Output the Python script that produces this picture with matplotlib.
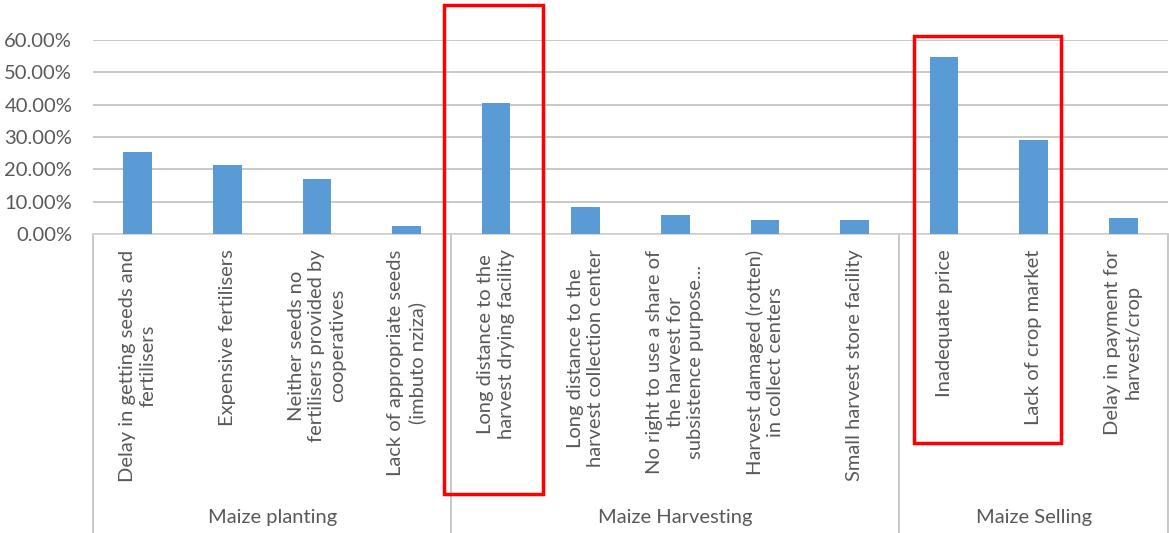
import numpy as np
import matplotlib.pyplot as plt
import matplotlib.transforms as mtransforms
from matplotlib.patches import Rectangle
from matplotlib.ticker import FuncFormatter

plt.rcParams['font.family'] = ['Lato', 'DejaVu Sans']

# Data
categories = [
    'Delay in getting seeds and\nfertilisers',
    'Expensive fertilisers',
    'Neither seeds no\nfertilisers provided by\ncooperatives',
    'Lack of appropriate seeds\n(imbuto nziza)',
    'Long distance to the\nharvest drying facility',
    'Long distance to the\nharvest collection center',
    'No right to use a share of\nthe harvest for\nsubsistence purpose...',
    'Harvest damaged (rotten)\nin collect centers',
    'Small harvest store facility',
    'Inadequate price',
    'Lack of crop market',
    'Delay in payment for\nharvest/crop',
]
values = [0.253, 0.213, 0.169, 0.024, 0.404, 0.084, 0.058, 0.042, 0.042, 0.546, 0.290, 0.050]
groups = ['Maize planting', 'Maize Harvesting', 'Maize Selling']
group_sizes = [4, 5, 3]

txt_color = '#595959'

fig = plt.figure(figsize=(11.69, 5.33), dpi=100)
ax = fig.add_axes([93 / 1169, 1 - 234 / 533, 1075 / 1169, 194 / 533])

x = np.arange(len(values))
ax.bar(x, values, width=0.32, color='#5b9bd5', zorder=3)

ax.set_xlim(-0.5, len(values) - 0.5)
ax.set_ylim(0, 0.6)
ax.set_yticks(np.arange(0, 0.61, 0.1))
ax.yaxis.set_major_formatter(FuncFormatter(lambda v, p: f'{v * 100:.2f}%'))
ax.tick_params(axis='y', length=0, pad=15, labelsize=14.5, labelcolor=txt_color)
ax.set_xticks([])
ax.grid(axis='y', color='#bfbfbf', linewidth=1.2, zorder=0)
for s in ['top', 'right', 'left']:
    ax.spines[s].set_visible(False)
ax.spines['bottom'].set_color('#d0d0d0')
ax.spines['bottom'].set_linewidth(1.2)

# x in data, y in figure fraction
trans = mtransforms.blended_transform_factory(ax.transData, fig.transFigure)
y_axis = 1 - 234 / 533

for i, lab in enumerate(categories):
    ax.text(i, 0.532, lab, transform=trans, rotation=90, ha='center', va='top',
            multialignment='center', fontsize=14.5, color=txt_color, linespacing=1.25)

# group separators and labels
edges = np.concatenate([[0], np.cumsum(group_sizes)]) - 0.5
for e in edges:
    ax.plot([e, e], [y_axis, 0], transform=trans, color='#bfbfbf', lw=1.2, clip_on=False)
for g, a, b in zip(groups, edges[:-1], edges[1:]):
    ax.text((a + b) / 2, 0.03, g, transform=trans, ha='center', va='center',
            fontsize=14.5, color=txt_color)

# red highlight boxes
boxes = [(4 - 0.58, 4 + 0.52, 0.073, 0.9906), (9 - 0.33, 10 + 0.31, 0.169, 0.9325)]
for x0, x1, y0, y1 in boxes:
    ax.add_patch(Rectangle((x0, y0), x1 - x0, y1 - y0, transform=trans, fill=False,
                           edgecolor='#ff0000', linewidth=2.5, clip_on=False, zorder=5))

fig.savefig('out.png', dpi=100)
